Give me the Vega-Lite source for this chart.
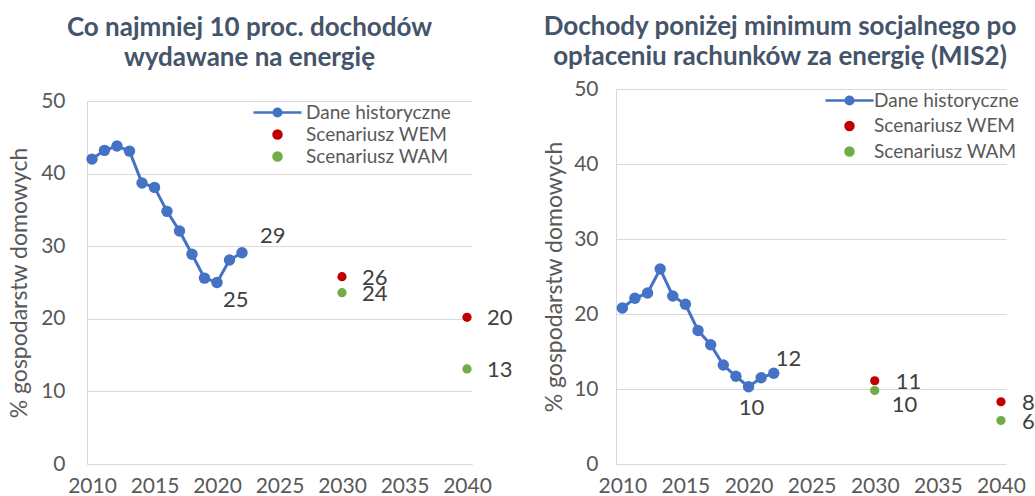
{
  "$schema": "https://vega.github.io/schema/vega-lite/v6.json",
  "padding": {"left": 8, "top": 14, "right": 0, "bottom": 0},
  "autosize": {"type": "pad"},
  "background": "white",
  "datasets": {
    "left": [
      {"year": 2010, "value": 42.0, "series": "Dane historyczne"},
      {"year": 2011, "value": 43.2, "series": "Dane historyczne"},
      {"year": 2012, "value": 43.8, "series": "Dane historyczne"},
      {"year": 2013, "value": 43.1, "series": "Dane historyczne"},
      {"year": 2014, "value": 38.7, "series": "Dane historyczne"},
      {"year": 2015, "value": 38.1, "series": "Dane historyczne"},
      {"year": 2016, "value": 34.8, "series": "Dane historyczne"},
      {"year": 2017, "value": 32.1, "series": "Dane historyczne"},
      {"year": 2018, "value": 28.9, "series": "Dane historyczne"},
      {"year": 2019, "value": 25.6, "series": "Dane historyczne"},
      {"year": 2020, "value": 25.0, "series": "Dane historyczne"},
      {"year": 2021, "value": 28.1, "series": "Dane historyczne"},
      {"year": 2022, "value": 29.1, "series": "Dane historyczne"},
      {"year": 2030, "value": 25.8, "series": "Scenariusz WEM"},
      {"year": 2040, "value": 20.2, "series": "Scenariusz WEM"},
      {"year": 2030, "value": 23.6, "series": "Scenariusz WAM"},
      {"year": 2040, "value": 13.1, "series": "Scenariusz WAM"}
    ],
    "right": [
      {"year": 2010, "value": 20.8, "series": "Dane historyczne"},
      {"year": 2011, "value": 22.1, "series": "Dane historyczne"},
      {"year": 2012, "value": 22.8, "series": "Dane historyczne"},
      {"year": 2013, "value": 26.0, "series": "Dane historyczne"},
      {"year": 2014, "value": 22.4, "series": "Dane historyczne"},
      {"year": 2015, "value": 21.3, "series": "Dane historyczne"},
      {"year": 2016, "value": 17.8, "series": "Dane historyczne"},
      {"year": 2017, "value": 15.9, "series": "Dane historyczne"},
      {"year": 2018, "value": 13.2, "series": "Dane historyczne"},
      {"year": 2019, "value": 11.7, "series": "Dane historyczne"},
      {"year": 2020, "value": 10.3, "series": "Dane historyczne"},
      {"year": 2021, "value": 11.5, "series": "Dane historyczne"},
      {"year": 2022, "value": 12.1, "series": "Dane historyczne"},
      {"year": 2030, "value": 11.1, "series": "Scenariusz WEM"},
      {"year": 2040, "value": 8.3, "series": "Scenariusz WEM"},
      {"year": 2030, "value": 9.8, "series": "Scenariusz WAM"},
      {"year": 2040, "value": 5.8, "series": "Scenariusz WAM"}
    ]
  },
  "columns": 2,
  "align": "none",
  "spacing": 30,
  "resolve": {"scale": {"color": "independent"}, "legend": {"color": "independent"}},
  "concat": [
    {
      "width": 385,
      "height": 375,
      "data": {"name": "left"},
      "title": {"text": ["Co najmniej 10 proc. dochodów", "wydawane na energię"], "offset": 18, "dx": -30},
      "encoding": {
        "x": {"field": "year", "type": "quantitative", "scale": {"domain": [2009.6, 2040.4], "nice": false, "zero": false},
              "axis": {"values": [2010, 2015, 2020, 2025, 2030, 2035, 2040], "format": "d", "title": null, "grid": false, "labelPadding": 11}},
        "y": {"field": "value", "type": "quantitative", "scale": {"domain": [0, 50], "nice": false, "range": [375, 12]},
              "axis": {"values": [0, 10, 20, 30, 40, 50], "title": "% gospodarstw domowych", "labelPadding": 22, "titlePadding": 9}}
      },
      "layer": [
        {
          "transform": [{"filter": "datum.series === 'Dane historyczne'"}],
          "mark": {"type": "line", "strokeWidth": 3},
          "encoding": {"color": {"field": "series", "type": "nominal", "scale": {"domain": ["Dane historyczne", "Scenariusz WEM", "Scenariusz WAM"], "range": ["#4472c4", "#c00000", "#70ad47"]},
            "legend": {"title": null, "orient": "none", "legendX": 181, "legendY": 14, "symbolSize": 2304, "labelOffset": 19, "rowPadding": 2, "labelFontSize": 19,
              "encode": {"symbols": {"update": {
                "shape": {"signal": "datum.value === 'Dane historyczne' ? 'M-1,0H1M-0.16,0A0.16,0.16 0 1 1 0.16,0A0.16,0.16 0 1 1 -0.16,0' : 'circle'"},
                "size": {"signal": "datum.value === 'Dane historyczne' ? 2304 : 64"},
                "fill": {"signal": "datum.value === 'Dane historyczne' ? '#4472c4' : datum.value === 'Scenariusz WEM' ? '#c00000' : '#70ad47'"},
                "stroke": {"signal": "datum.value === 'Dane historyczne' ? '#4472c4' : 'transparent'"},
                "strokeWidth": {"value": 2.5},
                "opacity": {"value": 1}
              }}}}}}
        },
        {
          "transform": [{"filter": "datum.series === 'Dane historyczne'"}],
          "mark": {"type": "circle", "size": 130, "opacity": 1},
          "encoding": {"color": {"field": "series", "type": "nominal", "scale": {"domain": ["Dane historyczne", "Scenariusz WEM", "Scenariusz WAM"], "range": ["#4472c4", "#c00000", "#70ad47"]},
            "legend": {"title": null, "orient": "none", "legendX": 181, "legendY": 14, "symbolSize": 2304, "labelOffset": 19, "rowPadding": 2, "labelFontSize": 19,
              "encode": {"symbols": {"update": {
                "shape": {"signal": "datum.value === 'Dane historyczne' ? 'M-1,0H1M-0.16,0A0.16,0.16 0 1 1 0.16,0A0.16,0.16 0 1 1 -0.16,0' : 'circle'"},
                "size": {"signal": "datum.value === 'Dane historyczne' ? 2304 : 64"},
                "fill": {"signal": "datum.value === 'Dane historyczne' ? '#4472c4' : datum.value === 'Scenariusz WEM' ? '#c00000' : '#70ad47'"},
                "stroke": {"signal": "datum.value === 'Dane historyczne' ? '#4472c4' : 'transparent'"},
                "strokeWidth": {"value": 2.5},
                "opacity": {"value": 1}
              }}}}}}
        },
        {
          "transform": [{"filter": "datum.series !== 'Dane historyczne'"}],
          "mark": {"type": "circle", "size": 85, "opacity": 1},
          "encoding": {"color": {"field": "series", "type": "nominal", "scale": {"domain": ["Dane historyczne", "Scenariusz WEM", "Scenariusz WAM"], "range": ["#4472c4", "#c00000", "#70ad47"]},
            "legend": {"title": null, "orient": "none", "legendX": 181, "legendY": 14, "symbolSize": 2304, "labelOffset": 19, "rowPadding": 2, "labelFontSize": 19,
              "encode": {"symbols": {"update": {
                "shape": {"signal": "datum.value === 'Dane historyczne' ? 'M-1,0H1M-0.16,0A0.16,0.16 0 1 1 0.16,0A0.16,0.16 0 1 1 -0.16,0' : 'circle'"},
                "size": {"signal": "datum.value === 'Dane historyczne' ? 2304 : 64"},
                "fill": {"signal": "datum.value === 'Dane historyczne' ? '#4472c4' : datum.value === 'Scenariusz WEM' ? '#c00000' : '#70ad47'"},
                "stroke": {"signal": "datum.value === 'Dane historyczne' ? '#4472c4' : 'transparent'"},
                "strokeWidth": {"value": 2.5},
                "opacity": {"value": 1}
              }}}}}}
        },
        {
          "transform": [{"filter": "datum.year === 2022"}],
          "mark": {"type": "text", "align": "left", "baseline": "middle", "dx": 18, "dy": -17},
          "encoding": {"text": {"field": "value", "type": "quantitative", "format": ".0f"}}
        },
        {
          "transform": [{"filter": "datum.year === 2020"}],
          "mark": {"type": "text", "align": "left", "baseline": "middle", "dx": 6, "dy": 17},
          "encoding": {"text": {"field": "value", "type": "quantitative", "format": ".0f"}}
        },
        {
          "transform": [{"filter": "datum.series !== 'Dane historyczne'"}],
          "mark": {"type": "text", "align": "left", "baseline": "middle", "dx": 20, "dy": 1},
          "encoding": {"text": {"field": "value", "type": "quantitative", "format": ".0f"}}
        }
      ]
    },
    {
      "width": 390,
      "height": 375,
      "data": {"name": "right"},
      "title": {"text": ["Dochody poniżej minimum socjalnego po", "opłaceniu rachunków za energię (MIS2)"], "offset": 8, "dx": -31},
      "encoding": {
        "x": {"field": "year", "type": "quantitative", "scale": {"domain": [2009.5, 2040.4], "nice": false, "zero": false},
              "axis": {"values": [2010, 2015, 2020, 2025, 2030, 2035, 2040], "format": "d", "title": null, "grid": false, "labelPadding": 11}},
        "y": {"field": "value", "type": "quantitative", "scale": {"domain": [0, 50], "nice": false},
              "axis": {"values": [0, 10, 20, 30, 40, 50], "title": "% gospodarstw domowych", "labelPadding": 18, "titlePadding": 7}}
      },
      "layer": [
        {
          "transform": [{"filter": "datum.series === 'Dane historyczne'"}],
          "mark": {"type": "line", "strokeWidth": 3},
          "encoding": {"color": {"field": "series", "type": "nominal", "scale": {"domain": ["Dane historyczne", "Scenariusz WEM", "Scenariusz WAM"], "range": ["#4472c4", "#c00000", "#70ad47"]},
            "legend": {"title": null, "orient": "none", "legendX": 224, "legendY": 2, "symbolSize": 2304, "labelOffset": 15, "rowPadding": 5.5, "labelFontSize": 19,
              "encode": {"symbols": {"update": {
                "shape": {"signal": "datum.value === 'Dane historyczne' ? 'M-1,0H1M-0.16,0A0.16,0.16 0 1 1 0.16,0A0.16,0.16 0 1 1 -0.16,0' : 'circle'"},
                "size": {"signal": "datum.value === 'Dane historyczne' ? 2304 : 64"},
                "fill": {"signal": "datum.value === 'Dane historyczne' ? '#4472c4' : datum.value === 'Scenariusz WEM' ? '#c00000' : '#70ad47'"},
                "stroke": {"signal": "datum.value === 'Dane historyczne' ? '#4472c4' : 'transparent'"},
                "strokeWidth": {"value": 2.5},
                "opacity": {"value": 1}
              }}}}}}
        },
        {
          "transform": [{"filter": "datum.series === 'Dane historyczne'"}],
          "mark": {"type": "circle", "size": 130, "opacity": 1},
          "encoding": {"color": {"field": "series", "type": "nominal", "scale": {"domain": ["Dane historyczne", "Scenariusz WEM", "Scenariusz WAM"], "range": ["#4472c4", "#c00000", "#70ad47"]},
            "legend": {"title": null, "orient": "none", "legendX": 224, "legendY": 2, "symbolSize": 2304, "labelOffset": 15, "rowPadding": 5.5, "labelFontSize": 19,
              "encode": {"symbols": {"update": {
                "shape": {"signal": "datum.value === 'Dane historyczne' ? 'M-1,0H1M-0.16,0A0.16,0.16 0 1 1 0.16,0A0.16,0.16 0 1 1 -0.16,0' : 'circle'"},
                "size": {"signal": "datum.value === 'Dane historyczne' ? 2304 : 64"},
                "fill": {"signal": "datum.value === 'Dane historyczne' ? '#4472c4' : datum.value === 'Scenariusz WEM' ? '#c00000' : '#70ad47'"},
                "stroke": {"signal": "datum.value === 'Dane historyczne' ? '#4472c4' : 'transparent'"},
                "strokeWidth": {"value": 2.5},
                "opacity": {"value": 1}
              }}}}}}
        },
        {
          "transform": [{"filter": "datum.series !== 'Dane historyczne'"}],
          "mark": {"type": "circle", "size": 85, "opacity": 1},
          "encoding": {"color": {"field": "series", "type": "nominal", "scale": {"domain": ["Dane historyczne", "Scenariusz WEM", "Scenariusz WAM"], "range": ["#4472c4", "#c00000", "#70ad47"]},
            "legend": {"title": null, "orient": "none", "legendX": 224, "legendY": 2, "symbolSize": 2304, "labelOffset": 15, "rowPadding": 5.5, "labelFontSize": 19,
              "encode": {"symbols": {"update": {
                "shape": {"signal": "datum.value === 'Dane historyczne' ? 'M-1,0H1M-0.16,0A0.16,0.16 0 1 1 0.16,0A0.16,0.16 0 1 1 -0.16,0' : 'circle'"},
                "size": {"signal": "datum.value === 'Dane historyczne' ? 2304 : 64"},
                "fill": {"signal": "datum.value === 'Dane historyczne' ? '#4472c4' : datum.value === 'Scenariusz WEM' ? '#c00000' : '#70ad47'"},
                "stroke": {"signal": "datum.value === 'Dane historyczne' ? '#4472c4' : 'transparent'"},
                "strokeWidth": {"value": 2.5},
                "opacity": {"value": 1}
              }}}}}}
        },
        {
          "transform": [{"filter": "datum.year === 2022"}],
          "mark": {"type": "text", "align": "left", "baseline": "middle", "dx": 2, "dy": -14},
          "encoding": {"text": {"field": "value", "type": "quantitative", "format": ".0f"}}
        },
        {
          "transform": [{"filter": "datum.year === 2020"}],
          "mark": {"type": "text", "align": "center", "baseline": "middle", "dx": 3, "dy": 21},
          "encoding": {"text": {"field": "value", "type": "quantitative", "format": ".0f"}}
        },
        {
          "transform": [{"filter": "datum.series !== 'Dane historyczne' && !(datum.series === 'Scenariusz WAM' && datum.year === 2030)"}],
          "mark": {"type": "text", "align": "left", "baseline": "middle", "dx": 21, "dy": 1},
          "encoding": {"text": {"field": "value", "type": "quantitative", "format": ".0f"}}
        },
        {
          "transform": [{"filter": "datum.series === 'Scenariusz WAM' && datum.year === 2030"}],
          "mark": {"type": "text", "align": "left", "baseline": "middle", "dx": 17, "dy": 14},
          "encoding": {"text": {"field": "value", "type": "quantitative", "format": ".0f"}}
        }
      ]
    }
  ],
  "config": {
    "font": "Lato",
    "view": {"stroke": null},
    "title": {"font": "Lato", "fontSize": 26, "fontWeight": "bold", "color": "#44546a", "lineHeight": 30, "anchor": "middle", "frame": "group"},
    "axis": {"labelFont": "Lato", "labelFontSize": 21, "labelColor": "#595959", "titleFont": "Lato", "titleFontSize": 23, "titleFontWeight": "normal", "titleColor": "#595959",
             "gridColor": "#d9d9d9", "gridWidth": 1, "domainColor": "#d9d9d9", "ticks": false},
    "legend": {"labelFont": "Lato", "labelColor": "#595959"},
    "text": {"font": "Lato", "fontSize": 22, "color": "#404040"}
  }
}
